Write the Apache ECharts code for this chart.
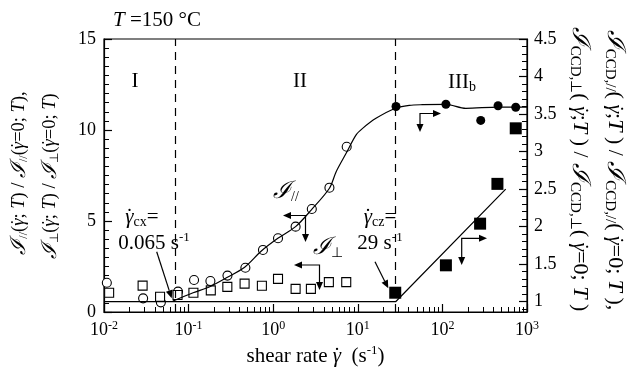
<!DOCTYPE html>
<html>
<head>
<meta charset="utf-8">
<script src="https://cdn.jsdelivr.net/npm/echarts@6/dist/echarts.min.js"></script>
<style>
html,body{margin:0;padding:0;background:#fff}
#chart{width:630px;height:371px}
</style>
</head>
<body>
<div id="chart"></div>
<script>
var FONT = 'Liberation Serif';

// J// (open circles, left axis)
var parX = [0.0108, 0.029, 0.047, 0.075, 0.116, 0.181, 0.288, 0.469, 0.757, 1.14, 1.84, 2.86, 4.62, 7.39];
var parY = [1.61, 0.75, 0.53, 1.12, 1.76, 1.70, 2.0, 2.43, 3.41, 4.05, 4.69, 5.66, 6.83, 9.08];
// J_perp (open squares, left axis)
var perpX = [0.0115, 0.0286, 0.046, 0.074, 0.114, 0.183, 0.287, 0.459, 0.735, 1.14, 1.84, 2.79, 4.55, 7.3];
var perpY = [1.06, 1.45, 0.84, 0.93, 1.06, 1.19, 1.38, 1.56, 1.44, 1.82, 1.27, 1.27, 1.64, 1.64];
// J_CCD,// (filled circles, right axis)
var ccdParX = [28.3, 110, 284, 455, 736];
var ccdParY = [3.60, 3.63, 3.415, 3.61, 3.59];
// J_CCD,perp (filled squares, right axis)
var ccdPerpX = [27.7, 110, 279, 447, 736];
var ccdPerpY = [1.12, 1.485, 2.04, 2.57, 3.31];
// guide curve for J// (left axis)
var parFitX = [0.065, 0.113, 0.178, 0.28, 0.46, 0.724, 1.135, 1.84, 2.81, 4.62, 5.55, 7.28, 9.55, 11.4, 16.4, 27, 40.6, 58, 110, 189, 455, 1000];
var parFitY = [0.6, 1.06, 1.39, 1.88, 2.46, 3.35, 4.05, 4.69, 5.60, 6.80, 7.71, 8.72, 9.73, 10.09, 10.64, 11.17, 11.35, 11.39, 11.41, 11.19, 11.26, 11.26];
// guide line for J_CCD,perp (right axis)
var perpFitX = [0.01, 28, 560];
var perpFitY = [1.0, 1.0, 2.5];
// critical shear rates (dashed lines)
var critRates = [0.065, 28];
// right axis ticks
var rightMajor = [1, 1.5, 2, 2.5, 3, 3.5, 4, 4.5];
var rightMinor = [0.9, 1.1, 1.2, 1.3, 1.4, 1.6, 1.7, 1.8, 1.9, 2.1, 2.2, 2.3, 2.4, 2.6, 2.7, 2.8, 2.9,
  3.1, 3.2, 3.3, 3.4, 3.6, 3.7, 3.8, 3.9, 4.1, 4.2, 4.3, 4.4];
var decades = [-2, -1, 0, 1, 2];
var minorMult = [2, 3, 4, 5, 6, 7, 8, 9];

function zip(a, b) {
  return a.map(function (v, i) { return [v, b[i]]; });
}

var xMinor = [];
decades.forEach(function (d) {
  minorMult.forEach(function (m) { xMinor.push(d + Math.log10(m)); });
});

// rich styles; the dot of gamma-dot is a zero-advance token pulled back over the gamma
function richFor(sz) {
  var lh = Math.round(sz * 1.15);
  return {
    n: { fontFamily: FONT, fontSize: sz, lineHeight: lh, color: '#000' },
    i: { fontFamily: FONT, fontSize: sz, lineHeight: lh, fontStyle: 'italic', color: '#000' },
    d: { fontFamily: FONT, fontSize: sz, lineHeight: lh, width: -Math.round(sz * 0.4), color: '#000' },
    z: { fontFamily: FONT, fontSize: sz, lineHeight: lh, width: Math.round(sz * 0.4), color: '#000' },
    J: { fontFamily: FONT, fontSize: Math.round(sz * 1.15), lineHeight: lh, fontStyle: 'italic', color: '#000' },
    s: { fontFamily: FONT, fontSize: Math.round(sz * 0.67), lineHeight: Math.round(sz * 0.67), verticalAlign: 'bottom', color: '#000' },
    p: { fontFamily: FONT, fontSize: Math.round(sz * 0.62), lineHeight: Math.round(sz * 0.62), verticalAlign: 'top', color: '#000' },
    t: { fontFamily: FONT, fontSize: 18, lineHeight: 20, color: '#000' },
    tp: { fontFamily: FONT, fontSize: 12, lineHeight: 12, verticalAlign: 'top', color: '#000' }
  };
}
var rich = richFor(21);
var richSide = richFor(18.5);
var richRight = richFor(22);
var G = '{i|γ}{d|˙}{z| }';

function txt(x, y, str, rot, r) {
  return {
    type: 'text', x: x, y: y, rotation: rot || 0, silent: true,
    style: { text: str, align: 'center', verticalAlign: 'middle', rich: r || rich, fontFamily: FONT, fontSize: 21, fill: '#000' }
  };
}

function elbow(cx, cy, hx, vy) {
  // L-shaped pointer: horizontal arm to hx, vertical arm down to vy
  var hd = hx < cx ? -1 : 1;
  return [
    { type: 'polyline', silent: true, shape: { points: [[hx - hd * 6, cy], [cx, cy], [cx, vy - 6]] }, style: { stroke: '#000', lineWidth: 1.2, fill: null } },
    { type: 'polygon', silent: true, shape: { points: [[hx, cy], [hx - hd * 8, cy - 3.5], [hx - hd * 8, cy + 3.5]] }, style: { fill: '#000' } },
    { type: 'polygon', silent: true, shape: { points: [[cx, vy], [cx - 3.5, vy - 8], [cx + 3.5, vy - 8]] }, style: { fill: '#000' } }
  ];
}

function arrow(x1, y1, x2, y2) {
  var a = Math.atan2(y2 - y1, x2 - x1), L = 8, W = 3.5;
  var bx = x2 - L * Math.cos(a), by = y2 - L * Math.sin(a);
  return [
    { type: 'line', silent: true, shape: { x1: x1, y1: y1, x2: bx, y2: by }, style: { stroke: '#000', lineWidth: 1.2 } },
    { type: 'polygon', silent: true, shape: { points: [[x2, y2], [bx + W * Math.sin(a), by - W * Math.cos(a)], [bx - W * Math.sin(a), by + W * Math.cos(a)]] }, style: { fill: '#000' } }
  ];
}

var myChart = echarts.init(document.getElementById('chart'));
var graphics = [
  txt(157, 20, '{i|T}{n| =150 °C}'),
  txt(135, 81, '{n|I}'),
  txt(300, 81, '{n|II}'),
  txt(462, 82, '{n|III}{s|b}'),
  txt(142, 217, G + '{s|cx}{n|=}'),
  txt(154, 243, '{n|0.065 s}{p|-1}'),
  txt(380, 217, G + '{s|cz}{n|=}'),
  txt(380, 243, '{n|29 s}{p|-1}'),
  txt(286, 192, '{J|ℐ}{s|//}'),
  txt(328, 248, '{J|ℐ}{s|⊥}'),
  txt(19, 173, '{J|ℐ}{s|//}{n|(}' + G + '{n|; }{i|T}{n|) / }{J|ℐ}{s|//}{n|(}' + G + '{n|=0; }{i|T}{n|),}', Math.PI / 2, richSide),
  txt(50, 176, '{J|ℐ}{s|⊥}{n|(}' + G + '{n|; }{i|T}{n|) / }{J|ℐ}{s|⊥}{n|(}' + G + '{n|=0; }{i|T}{n|)}', Math.PI / 2, richSide),
  txt(615, 170, '{J|ℐ}{s|CCD,//}{n|( }' + G + '{n|;}{i|T}{n| ) / }{J|ℐ}{s|CCD,//}{n|( }' + G + '{n|=0; }{i|T}{n| ),}', -Math.PI / 2, richRight),
  txt(580, 169, '{J|ℐ}{s|CCD,⊥}{n|( }' + G + '{n|;}{i|T}{n| ) / }{J|ℐ}{s|CCD,⊥}{n|( }' + G + '{n|=0; }{i|T}{n| )}', -Math.PI / 2, richRight)
];
graphics = graphics
  .concat(elbow(305.5, 215.5, 283, 242))
  .concat(elbow(319.5, 265, 294, 290))
  .concat(elbow(420, 113.5, 441, 132))
  .concat(elbow(461.7, 238.3, 487, 265))
  .concat(arrow(156.7, 251.7, 171.7, 298.3))
  .concat(arrow(375, 261.7, 388.3, 288.3));

option = {
  animation: false,
  backgroundColor: '#fff',
  grid: { left: 104, right: 103, top: 39, bottom: 59, show: true, borderColor: '#000', borderWidth: 1.2, backgroundColor: 'transparent', containLabel: false, outerBoundsMode: 'none' },
  xAxis: [
    {
      type: 'log', logBase: 10, min: 0.01, max: 1000,
      name: '{n|shear rate }' + G + '{n|  (s}{p|-1}{n|)}',
      nameLocation: 'middle', nameGap: 32,
      nameTextStyle: { rich: rich },
      axisLine: { onZero: false, lineStyle: { color: '#000', width: 1.2 } },
      axisTick: { inside: true, length: 8, lineStyle: { color: '#000', width: 1.2 } },
      axisLabel: {
        margin: 8,
        formatter: function (v) { return '{t|10}{tp|' + Math.round(Math.log10(v)) + '}'; },
        rich: rich
      },
      splitLine: { show: false }
    },
    {
      type: 'value', min: -2, max: 3, position: 'bottom',
      axisLine: { show: false, onZero: false },
      axisTick: { inside: true, length: 5, customValues: xMinor, lineStyle: { color: '#000', width: 1 } },
      axisLabel: { show: false },
      splitLine: { show: false }
    }
  ],
  yAxis: [
    {
      type: 'value', min: 0, max: 15, interval: 5, position: 'left',
      axisLine: { show: true, onZero: false, lineStyle: { color: '#000', width: 1.2 } },
      axisTick: { inside: true, length: 8, lineStyle: { color: '#000', width: 1.2 } },
      minorTick: { show: true, splitNumber: 10, length: 5, lineStyle: { color: '#000', width: 1 } },
      axisLabel: { margin: 8, fontFamily: FONT, fontSize: 18, color: '#000' },
      splitLine: { show: false }
    },
    {
      type: 'value', min: 0.863, max: 4.5, position: 'right',
      axisLine: { show: true, onZero: false, lineStyle: { color: '#000', width: 1.2 } },
      axisTick: { inside: true, length: 8, customValues: rightMajor, lineStyle: { color: '#000', width: 1.2 } },
      axisLabel: { margin: 7, customValues: rightMajor, fontFamily: FONT, fontSize: 18, color: '#000' },
      splitLine: { show: false }
    },
    {
      type: 'value', min: 0.863, max: 4.5, position: 'right',
      axisLine: { show: false, onZero: false },
      axisTick: { inside: true, length: 5, customValues: rightMinor, lineStyle: { color: '#000', width: 1 } },
      axisLabel: { show: false },
      splitLine: { show: false }
    }
  ],
  series: [
    {
      type: 'line', data: zip(parFitX, parFitY), smooth: 0.3, symbol: 'none',
      lineStyle: { color: '#000', width: 1.2 },
      markLine: {
        silent: true, symbol: ['none', 'none'], label: { show: false },
        lineStyle: { color: '#000', width: 1.2, type: [8, 6] },
        data: critRates.map(function (r) { return { xAxis: r }; })
      }
    },
    {
      type: 'line', yAxisIndex: 1, data: zip(perpFitX, perpFitY), symbol: 'none',
      lineStyle: { color: '#000', width: 1.2 }
    },
    {
      type: 'scatter', data: zip(parX, parY), symbol: 'circle', symbolSize: 9,
      itemStyle: { color: '#fff', borderColor: '#000', borderWidth: 1.1, opacity: 1 }
    },
    {
      type: 'scatter', data: zip(perpX, perpY), symbol: 'rect', symbolSize: 9,
      itemStyle: { color: '#fff', borderColor: '#000', borderWidth: 1.1, opacity: 1 }
    },
    {
      type: 'scatter', yAxisIndex: 1, data: zip(ccdParX, ccdParY), symbol: 'circle', symbolSize: 9,
      itemStyle: { color: '#000', opacity: 1 }
    },
    {
      type: 'scatter', yAxisIndex: 1, data: zip(ccdPerpX, ccdPerpY), symbol: 'rect', symbolSize: 12,
      itemStyle: { color: '#000', opacity: 1 }
    }
  ],
  graphic: graphics
};
myChart.setOption(option);
</script>
</body>
</html>
